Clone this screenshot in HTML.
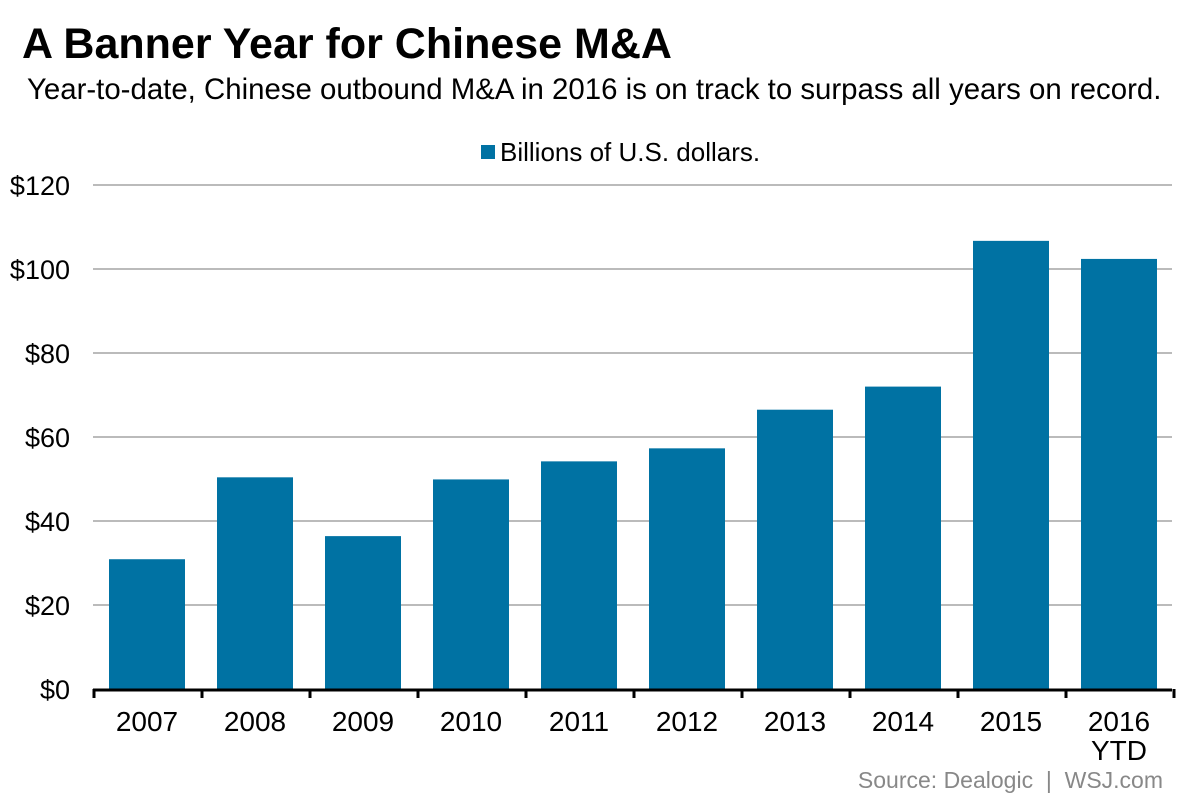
<!DOCTYPE html>
<html><head><meta charset="utf-8">
<style>
html,body{margin:0;padding:0;background:#fff;}
body{width:1200px;height:800px;overflow:hidden;font-family:"Liberation Sans",Arial,sans-serif;}
</style></head>
<body>
<svg id="chart" width="1200" height="800" xmlns="http://www.w3.org/2000/svg" font-family="Liberation Sans, Arial, sans-serif">
<text x="22" y="58" font-size="43" font-weight="bold" fill="#000">A Banner Year for Chinese M&amp;A</text>
<text x="27" y="99" font-size="29.4" fill="#000">Year-to-date, Chinese outbound M&amp;A in 2016 is on track to surpass all years on record.</text>
<rect x="481" y="145" width="14" height="14" fill="#0072a3"/>
<text x="500" y="161" font-size="26" fill="#000">Billions of U.S. dollars.</text>
<g id="grid"></g>
<g id="bars"></g>
<g id="axis"></g>
<text x="1163" y="788" font-size="23" fill="#888" text-anchor="end" style="white-space:pre" xml:space="preserve">Source: Dealogic  |  WSJ.com</text>
</svg>
<script>
const categories = ["2007","2008","2009","2010","2011","2012","2013","2014","2015","2016"];
const values = [30.9, 50.4, 36.4, 49.9, 54.2, 57.3, 66.5, 72.0, 106.7, 102.4];
const yTicks = [0, 20, 40, 60, 80, 100, 120];
const yTickLabels = ["$0","$20","$40","$60","$80","$100","$120"];
const NS = "http://www.w3.org/2000/svg";
const x0 = 93, step = 108, barW = 76, barOff = 16, yBase = 689, yTop = 185, yMax = 120;
const yScale = v => yBase - v / yMax * (yBase - yTop);
const xScale = i => x0 + i * step;
function mk(tag, attrs, parent){const e=document.createElementNS(NS,tag);for(const k in attrs)e.setAttribute(k,attrs[k]);parent.appendChild(e);return e;}
const grid=document.getElementById('grid'), bars=document.getElementById('bars'), axis=document.getElementById('axis');
yTicks.forEach((t,i)=>{
  const y=yScale(t);
  if(t>0){const l=mk('line',{x1:x0,x2:1172,y1:y,y2:y,stroke:'#bbb','stroke-width':2},grid);
  
  }
  const tx=mk('text',{x:70,y:y+10,'font-size':27,'text-anchor':'end',fill:'#000'},grid);
  tx.textContent=yTickLabels[i];
  
  
});
categories.forEach((c,i)=>{
  const y=yScale(values[i]);
  const r=mk('rect',{x:xScale(i)+barOff,y:y,width:barW,height:yBase-y,fill:'#0072a3'},bars);
  
  
  const tx=mk('text',{x:xScale(i)+step/2,y:731,'font-size':28,'text-anchor':'middle',fill:'#000'},axis);
  tx.textContent=c;
  
  
});
const ytd=mk('text',{x:xScale(9)+step/2,y:760,'font-size':28,'text-anchor':'middle',fill:'#000'},axis);
ytd.textContent='YTD';


const al=mk('line',{x1:x0,x2:1172,y1:yBase+1,y2:yBase+1,stroke:'#000','stroke-width':3},axis);


for(let i=0;i<=categories.length;i++){
  const tk=mk('line',{x1:xScale(i)+1,x2:xScale(i)+1,y1:yBase,y2:yBase+9,stroke:'#000','stroke-width':3},axis);
  
  
}
</script>
</body></html>
